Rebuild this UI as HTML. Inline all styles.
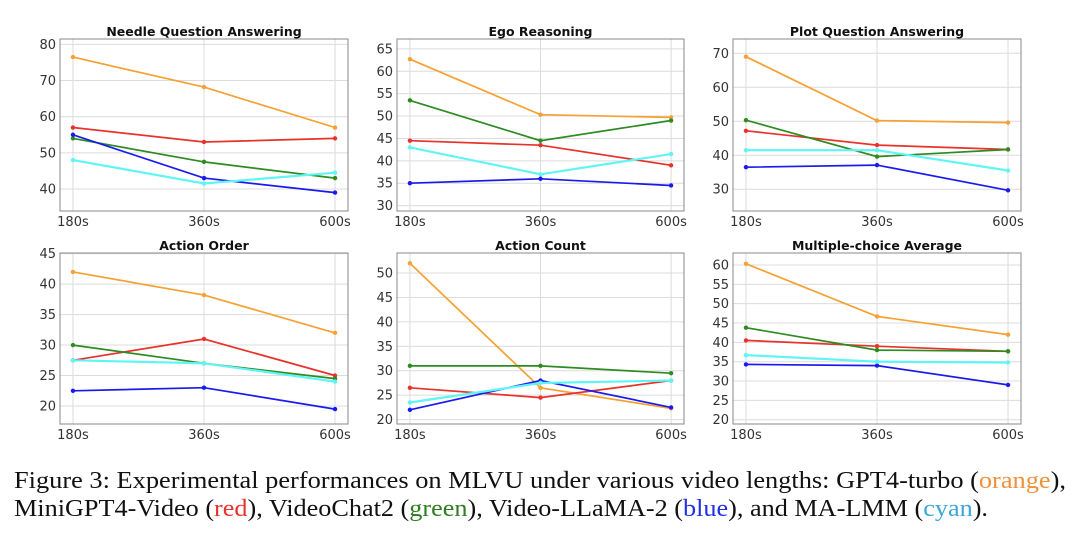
<!DOCTYPE html>
<html><head><meta charset="utf-8"><style>
html,body{margin:0;padding:0;background:#fff;width:1080px;height:534px;overflow:hidden}
svg{display:block}
</style></head><body>
<svg id="fig" width="1080" height="534" xmlns="http://www.w3.org/2000/svg" font-family="'DejaVu Sans','Liberation Sans',sans-serif">
<g id="panels"></g>
<g font-family="'Liberation Serif',serif" font-size="24" fill="#111">
<text x="14" y="488" textLength="1052" lengthAdjust="spacingAndGlyphs">Figure 3: Experimental performances on MLVU under various video lengths: GPT4-turbo (<tspan fill="#f0913a">orange</tspan>),</text>
<text x="14" y="516" textLength="974" lengthAdjust="spacingAndGlyphs">MiniGPT4-Video (<tspan fill="#e8322b">red</tspan>), VideoChat2 (<tspan fill="#2e7d1f">green</tspan>), Video-LLaMA-2 (<tspan fill="#1f2ee8">blue</tspan>), and MA-LMM (<tspan fill="#3aa7d8">cyan</tspan>).</text>
</g>
</svg>
<script>
const categories = ["180s","360s","600s"];
const seriesNames = ["GPT4-turbo","MiniGPT4-Video","VideoChat2","Video-LLaMA-2","MA-LMM"];
const seriesColors = ["#f5a133","#e8322b","#2e8b22","#1a1aee","#5ff5f5"];
const panelTitles = ["Needle Question Answering","Ego Reasoning","Plot Question Answering","Action Order","Action Count","Multiple-choice Average"];
const needleQA = [[76.5,68.2,57],[57,53,54],[54,47.5,43],[55,43,39],[48,41.5,44.5]];
const egoReasoning = [[62.7,50.3,49.7],[44.5,43.5,39],[53.5,44.5,49],[35,36,34.5],[43,37,41.5]];
const plotQA = [[69,50.2,49.6],[47.2,43,41.7],[50.3,39.6,41.7],[36.5,37.1,29.7],[41.5,41.5,35.5]];
const actionOrder = [[42,38.2,32],[27.5,31,25],[30,27,24.5],[22.5,23,19.5],[27.5,27,24]];
const actionCount = [[52,26.5,22.3],[26.5,24.5,28],[31,31,29.5],[22,28,22.5],[23.5,27.5,28]];
const mcAverage = [[60.3,46.7,42],[40.5,39,37.7],[43.8,38,37.7],[34.3,34,29],[36.7,35,34.8]];
const yTicks1 = [40,50,60,70,80];
const yTicks2 = [30,35,40,45,50,55,60,65];
const yTicks3 = [30,40,50,60,70];
const yTicks4 = [20,25,30,35,40,45];
const yTicks5 = [20,25,30,35,40,45,50];
const yTicks6 = [20,25,30,35,40,45,50,55,60];
const yLims = [[33.9,81.5],[28.8,67.2],[23.6,74.2],[17.05,45.1],[19.1,54.1],[18.9,63.1]];

const panelData = [needleQA,egoReasoning,plotQA,actionOrder,actionCount,mcAverage];
const panelTicks = [yTicks1,yTicks2,yTicks3,yTicks4,yTicks5,yTicks6];
const boxes = [[60,39,348,211],[397,39,684,211],[733,39,1021,211],[60,253,348,424],[397,253,684,424],[733,253,1021,424]];
const NS="http://www.w3.org/2000/svg";
const root=document.getElementById('panels');
function mk(tag,attrs,parent){const e=document.createElementNS(NS,tag);for(const k in attrs)e.setAttribute(k,attrs[k]);parent.appendChild(e);return e;}
panelData.forEach((data,p)=>{
  const [x0,y0,x1,y1]=boxes[p];
  const [lo,hi]=yLims[p];
  const g=mk('g',{},root);
  
  
  const padX=(x1-x0)*0.045;
  const xs=i=>x0+padX+i*((x1-x0-2*padX)/(categories.length-1));
  const ys=v=>y1-(v-lo)/(hi-lo)*(y1-y0);
  panelTicks[p].forEach(t=>{
    const y=ys(t);
    const gl=mk('line',{x1:x0,x2:x1,y1:y,y2:y,stroke:'#dcdcdc','stroke-width':1},g);
    
    
    const tl=mk('text',{x:x0-4,y:y+4.5,'text-anchor':'end','font-size':13,fill:'#333'},g);
    
    
    tl.textContent=t;
  });
  categories.forEach((c,i)=>{
    const x=xs(i);
    const gl=mk('line',{x1:x,x2:x,y1:y0,y2:y1,stroke:'#dcdcdc','stroke-width':1},g);
    
    
    const tl=mk('text',{x:x,y:y1+15,'text-anchor':'middle','font-size':13,fill:'#333'},g);
    
    
    tl.textContent=c;
  });
  const fr=mk('rect',{x:x0,y:y0,width:x1-x0,height:y1-y0,fill:'none',stroke:'#888','stroke-width':1},g);
  
  
  const tt=mk('text',{x:(x0+x1)/2,y:y0-3,'text-anchor':'middle','font-size':12.5,'font-weight':'bold',fill:'#111'},g);
  
  
  tt.textContent=panelTitles[p];
  data.forEach((vals,s)=>{
    const pts=vals.map((v,i)=>xs(i).toFixed(1)+','+ys(v).toFixed(1)).join(' ');
    const pl=mk('polyline',{points:pts,fill:'none',stroke:seriesColors[s],'stroke-width':s===4?2.2:1.7},g);
    
    
    vals.forEach((v,i)=>{
      const c=mk('circle',{cx:xs(i),cy:ys(v),r:2.2,fill:seriesColors[s]},g);
      
      
    });
  });
});
</script>
</body></html>
